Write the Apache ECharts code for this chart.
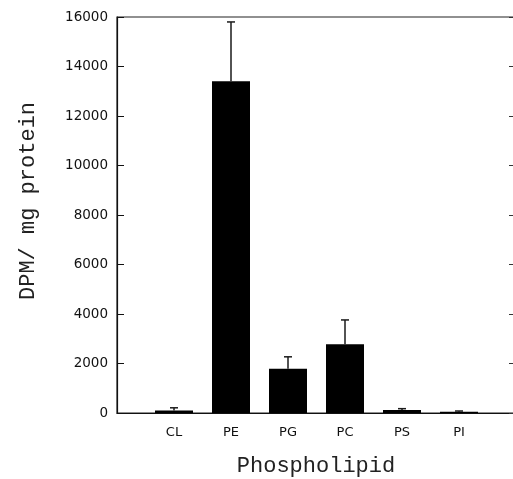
<!DOCTYPE html>
<html>
<head>
<meta charset="utf-8">
<script src="https://cdn.jsdelivr.net/npm/echarts@6/dist/echarts.min.js"></script>
<style>
html,body{margin:0;padding:0;background:#fff;overflow:hidden;}
#chart{width:516px;height:479px;}
</style>
</head>
<body>
<div id="chart"></div>
<script>
const categories = ['CL', 'PE', 'PG', 'PC', 'PS', 'PI'];
const means = [100, 13400, 1790, 2780, 120, 50];
const errors = [110, 2400, 480, 980, 55, 30];
const yTicks = { min: 0, max: 16000, interval: 2000 };
const xTitle = 'Phospholipid';
const yTitle = 'DPM/ mg protein';

const chart = echarts.init(document.getElementById('chart'), null, { renderer: 'canvas' });

const barData = categories.map((c, i) => [i + 1, means[i]]);
const errData = categories.map((c, i) => [i + 1, means[i], errors[i]]);

const tickFont = { fontFamily: 'DejaVu Sans', fontSize: 13, color: '#111' };

chart.setOption({
  animation: false,
  backgroundColor: '#fff',
  grid: {
    left: 117, right: 0, top: 17, bottom: 66, containLabel: false,
    outerBoundsMode: 'none',
    show: true, borderColor: '#222', borderWidth: 1.2, backgroundColor: 'transparent'
  },
  xAxis: [
    {
      type: 'value', min: 0, max: categories.length + 1, interval: 1,
      axisLine: { show: true, lineStyle: { color: '#111', width: 1.2 } },
      axisTick: { show: false },
      splitLine: { show: false },
      axisLabel: Object.assign({ margin: 13, formatter: v => categories[v - 1] || '' }, tickFont)
    }
  ],
  yAxis: [
    {
      type: 'value', min: yTicks.min, max: yTicks.max, interval: yTicks.interval,
      axisLine: { show: true, lineStyle: { color: '#111', width: 1.2 } },
      axisTick: { show: true, inside: true, length: 7, lineStyle: { color: '#111', width: 1 } },
      splitLine: { show: false },
      axisLabel: Object.assign({ margin: 9, formatter: v => String(v) }, tickFont, { fontSize: 13.5 })
    },
    {
      type: 'value', position: 'right', min: yTicks.min, max: yTicks.max, interval: yTicks.interval,
      axisLine: { show: true, lineStyle: { color: '#111', width: 1.2 } },
      axisTick: { show: true, inside: true, length: 7, lineStyle: { color: '#333', width: 1 } },
      splitLine: { show: false }, axisLabel: { show: false }
    }
  ],
  graphic: [
    {
      type: 'text', x: 316, y: 455,
      style: { text: xTitle, fontFamily: 'Liberation Mono', fontSize: 22, fill: '#222', textAlign: 'center', textVerticalAlign: 'top' }
    },
    {
      type: 'text', x: 17, y: 300, rotation: Math.PI / 2,
      style: { text: yTitle, fontFamily: 'Liberation Mono', fontSize: 22, fill: '#222', textAlign: 'left', textVerticalAlign: 'top' }
    }
  ],
  series: [
    {
      type: 'bar', data: barData, barWidth: 38,
      itemStyle: { color: '#000' }, z: 2
    },
    {
      type: 'custom', data: errData, z: 3,
      renderItem: function (params, api) {
        const x = api.value(0), m = api.value(1), e = api.value(2);
        const p0 = api.coord([x, m]);
        const p1 = api.coord([x, m + e]);
        const st = { stroke: '#1a1a1a', lineWidth: 1.5 };
        return {
          type: 'group',
          children: [
            { type: 'line', shape: { x1: p0[0], y1: p0[1], x2: p1[0], y2: p1[1] }, style: st },
            { type: 'line', shape: { x1: p1[0] - 4, y1: p1[1], x2: p1[0] + 4, y2: p1[1] }, style: st }
          ]
        };
      }
    }
  ]
});
</script>
</body>
</html>
